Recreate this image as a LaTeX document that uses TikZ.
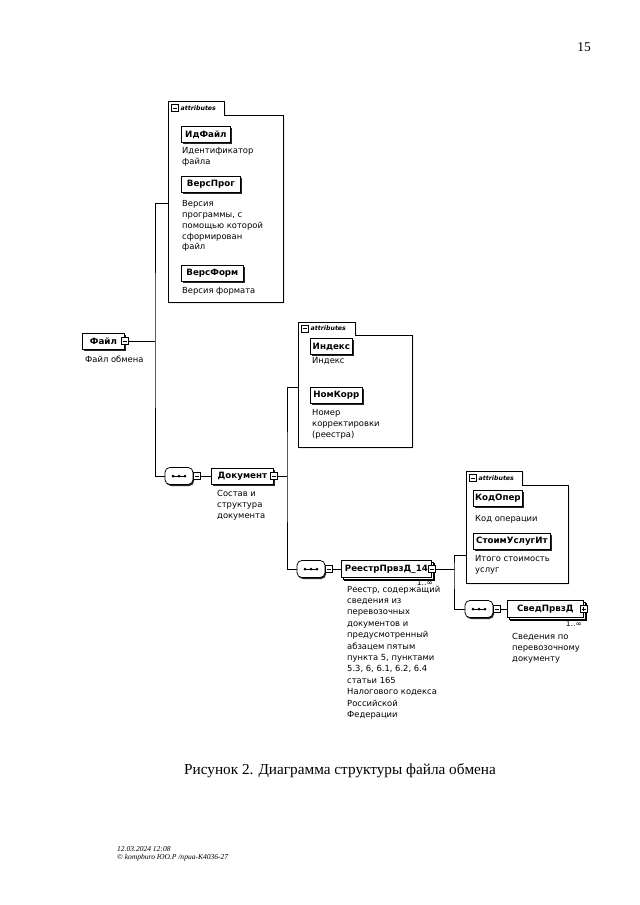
\documentclass[tikz,border=0pt]{standalone}
\usepackage{fontspec}
\setmainfont{Liberation Serif}
\newfontfamily\xsfont{DejaVu Sans}
\usetikzlibrary{shadows,positioning}
\newcommand\pxu{0.93pt}
\tikzset{
    elem/.style={draw, fill=white, anchor=west, inner sep=1.5pt, minimum height=16*\pxu, line width=0.7pt,
        font=\xsfont\bfseries\fontsize{8.1}{9}\selectfont,
        drop shadow={shadow xshift=1.4pt, shadow yshift=-1.4pt, fill=black, opacity=.85}},
    multi/.style={elem, double copy shadow={shadow xshift=1.5pt, shadow yshift=-1.5pt}},
    desc/.style={anchor=north west, inner sep=0pt, align=left,
        font=\xsfont\fontsize{7.8}{10}\selectfont},
    mult/.style={anchor=north east, inner sep=0pt, font=\xsfont\fontsize{7}{8}\selectfont},
    grp/.style={draw, fill=white, line width=0.6pt,
        drop shadow={shadow xshift=1pt, shadow yshift=-1pt, fill=black, opacity=.6}},
    grptitle/.style={anchor=west, inner sep=0pt, font=\xsfont\itshape\bfseries\fontsize{5.8}{7}\selectfont},
    tog/.style={draw, fill=white, minimum size=7*\pxu, inner sep=0pt, line width=0.6pt,
        path picture={\draw ([xshift=1.2pt]path picture bounding box.west) -- ([xshift=-1.2pt]path picture bounding box.east);}},
    togplus/.style={tog, path picture={
        \draw ([xshift=1.2pt]path picture bounding box.west) -- ([xshift=-1.2pt]path picture bounding box.east);
        \draw ([yshift=-1.2pt]path picture bounding box.north) -- ([yshift=1.2pt]path picture bounding box.south);}},
    seqc/.style={draw, fill=white, rounded corners=4.5pt, minimum width=28*\pxu, minimum height=17*\pxu,
        inner sep=0pt, line width=0.7pt,
        drop shadow={shadow xshift=1pt, shadow yshift=-1.4pt, fill=black, opacity=.85}},
    wire/.style={line width=0.7pt}
}
\begin{document}
\begin{tikzpicture}[x=0.93pt, y=-0.93pt]
    \fill[white] (0,0) rectangle (640,905);
    \useasboundingbox (0,0) rectangle (640,905);

    \node[font=\fontsize{12.5}{14}\selectfont] (pagenum) at (584,47) {15};

    \filldraw[grp] (168,101) -- (224,101) -- (224,115) -- (283,115) -- (283,302) -- (168,302) -- cycle;
    \filldraw[grp] (298,322) -- (355,322) -- (355,335) -- (412,335) -- (412,447) -- (298,447) -- cycle;
    \filldraw[grp] (466,471) -- (522,471) -- (522,485) -- (568,485) -- (568,583) -- (466,583) -- cycle;

    \node[tog] (grpFileTog) at (175,108) {};
    \node[grptitle] (grpFileT) at (180.5,108) {attributes};
    \node[tog] (grpDocTog) at (305,328.5) {};
    \node[grptitle] (grpDocT) at (310.5,328.5) {attributes};
    \node[tog] (grpRegTog) at (473,478) {};
    \node[grptitle] (grpRegT) at (478.5,478) {attributes};

    \coordinate (grpFile) at (168,203);
    \coordinate (grpDoc) at (298,387);
    \coordinate (grpReg) at (466,555);
    \coordinate (busFile) at (155,341);
    \coordinate (busDoc) at (287,476);
    \coordinate (busReg) at (454,569);

    \node[elem, minimum width=49*\pxu] (idfile) at (181,134.5) {ИдФайл};
    \node[desc] (idfileD) at (182,147.5) {Идентификатор\\файла};
    \node[elem, minimum width=59*\pxu] (versprog) at (181,184) {ВерсПрог};
    \node[desc] (versprogD) at (182,200.5) {Версия\\программы, с\\помощью которой\\сформирован\\файл};
    \node[elem, minimum width=62*\pxu] (versform) at (181,273.5) {ВерсФорм};
    \node[desc] (versformD) at (182,287.5) {Версия формата};

    \node[elem, minimum width=42*\pxu] (index) at (310,346.5) {Индекс};
    \node[desc] (indexD) at (312,357.5) {Индекс};
    \node[elem, minimum width=52*\pxu] (nomkorr) at (310,395.5) {НомКорр};
    \node[desc] (nomkorrD) at (312,409.5) {Номер\\корректировки\\(реестра)};

    \node[elem, minimum width=49*\pxu] (kodoper) at (473,498.5) {КодОпер};
    \node[desc] (kodoperD) at (475,515.5) {Код операции};
    \node[elem, minimum width=77*\pxu] (stoim) at (473,541.5) {СтоимУслугИт};
    \node[desc] (stoimD) at (475,555.5) {Итого стоимость\\услуг};

    \draw[wire] (grpFile) -| (busFile) |- (busDoc -| 165,0);
    \draw[wire] (grpDoc) -| (busDoc) |- (busReg -| 297,0);
    \draw[wire] (grpReg) -| (busReg) |- (465,609);

    \node[elem, minimum width=42*\pxu] (file) at (82,341) {Файл\hspace{3pt}};
    \node[tog] (fileTog) at (file.east) {};
    \node[desc] (fileD) at (85,355.5) {Файл обмена};
    \draw[wire] (fileTog.east) -- (busFile);

    \node[seqc] (seqDoc) at (179,476) {};
    \node[tog, right=0pt of seqDoc] (seqDocTog) {};
    \node[elem, minimum width=62*\pxu] (doc) at (211,476) {Документ\hspace{3pt}};
    \node[tog] (docTog) at (doc.east) {};
    \node[desc] (docD) at (217,490.5) {Состав и\\структура\\документа};
    \draw[wire] (seqDocTog.east) -- (doc.west);
    \draw[wire] (docTog.east) -- (busDoc);

    \node[seqc] (seqReg) at (311,569) {};
    \node[tog, right=0pt of seqReg] (seqRegTog) {};
    \node[multi, minimum width=90*\pxu, minimum height=17*\pxu] (reg) at (341,569) {РеестрПрвзД\_14\hspace{3pt}};
    \node[tog] (regTog) at (reg.east) {};
    \node[mult] (regM) at (433,580) {1..∞};
    \node[desc, font=\xsfont\fontsize{7.8}{10.6}\selectfont] (regD) at (347,585.5) {Реестр, содержащий\\сведения из\\перевозочных\\документов и\\предусмотренный\\абзацем пятым\\пункта 5, пунктами\\5.3, 6, 6.1, 6.2, 6.4\\статьи 165\\Налогового кодекса\\Российской\\Федерации};
    \draw[wire] (seqRegTog.east) -- (reg.west);
    \draw[wire] (regTog.east) -- (busReg);

    \node[seqc] (seqSved) at (479,609) {};
    \node[tog, right=0pt of seqSved] (seqSvedTog) {};
    \node[multi, minimum width=76*\pxu, minimum height=17*\pxu] (sved) at (507,609) {СведПрвзД\hspace{3pt}};
    \node[togplus] (svedTog) at (sved.east) {};
    \node[mult] (svedM) at (582,621) {1..∞};
    \node[desc] (svedD) at (512,633.5) {Сведения по\\перевозочному\\документу};
    \draw[wire] (seqSvedTog.east) -- (sved.west);

    \foreach \s in {seqDoc,seqReg,seqSved}{
        \draw[line width=0.6pt] (\s.center) ++(-7,0) -- ++(14,0);
        \foreach \d in {-6,0,6}
            \fill (\s.center) ++(\d,0) circle (1.5);
    }

    \node[font=\fontsize{14.2}{16}\selectfont] (caption) at (340,771) {Рисунок 2. Диаграмма структуры файла обмена};
    \node[anchor=north west, inner sep=0pt, align=left, font=\itshape\fontsize{7}{8}\selectfont] (stamp) at (117,846) {12.03.2024 12:08\\© kompburo ЮО.Р /npua-K4036-27};
\end{tikzpicture}
\end{document}
